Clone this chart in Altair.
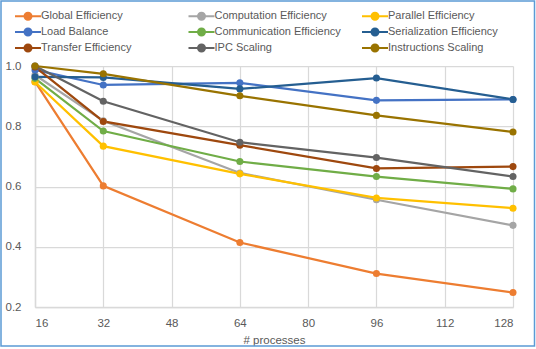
import altair as alt
import pandas as pd

processes = [16, 32, 64, 96, 128]
series_names = [
    "Global Efficiency", "Computation Efficiency", "Parallel Efficiency",
    "Load Balance", "Communication Efficiency", "Serialization Efficiency",
    "Transfer Efficiency", "IPC Scaling", "Instructions Scaling",
]
global_eff = [0.948, 0.602, 0.414, 0.311, 0.248]
computation_eff = [0.970, 0.818, 0.645, 0.556, 0.471]
parallel_eff = [0.947, 0.734, 0.642, 0.562, 0.528]
load_balance = [0.987, 0.937, 0.944, 0.886, 0.889]
communication_eff = [0.959, 0.784, 0.683, 0.633, 0.592]
serialization_eff = [0.964, 0.962, 0.924, 0.960, 0.889]
transfer_eff = [0.997, 0.816, 0.737, 0.660, 0.666]
ipc_scaling = [1.0, 0.883, 0.747, 0.696, 0.633]
instructions_scaling = [1.0, 0.974, 0.901, 0.836, 0.781]
colors = ["#ED7D31", "#A5A5A5", "#FFC000", "#4472C4", "#70AD47",
          "#255E91", "#9E480E", "#636363", "#997300"]

all_values = [global_eff, computation_eff, parallel_eff, load_balance,
              communication_eff, serialization_eff, transfer_eff,
              ipc_scaling, instructions_scaling]
rows = []
for i, (name, vals) in enumerate(zip(series_names, all_values)):
    for p, v in zip(processes, vals):
        rows.append({"series": name, "order": i, "processes": p, "value": v})
df = pd.DataFrame(rows)

W, H = 478, 241
FONT = "Liberation Sans"
TXT = "#595959"
GRID = "#D9D9D9"

# symbol: size 100 -> unit = 5px; line from -5px to +21px, dot radius 3.5px at +8px
sym_path = ("M-1,0L4.2,0M2.3,0A0.7,0.7,0,1,1,0.9,0"
            "A0.7,0.7,0,1,1,2.3,0Z")

legend = alt.Legend(
    title=None, orient="none", legendX=-21, legendY=-56, direction="horizontal",
    columns=3, gridAlign="all", columnPadding=16.5, rowPadding=0,
    symbolType=sym_path, symbolSize=100, symbolStrokeWidth=2,
    labelFont=FONT, labelFontSize=11, labelColor=TXT, labelOffset=15,
    labelLimit=200,
)

color = alt.Color("series:N", sort=series_names,
                  scale=alt.Scale(domain=series_names, range=colors),
                  legend=legend)

x = alt.X("processes:Q", title="# processes",
          scale=alt.Scale(domain=[16, 128], nice=False),
          axis=alt.Axis(values=[16, 32, 48, 64, 80, 96, 112, 128], ticks=False,
                        labelPadding=10, titlePadding=6, domainColor=GRID,
                        domainWidth=1.5))
y = alt.Y("value:Q", title=None,
          scale=alt.Scale(domain=[0.2, 1.0], nice=False, zero=False),
          axis=alt.Axis(values=[0.2, 0.4, 0.6, 0.8, 1.0], format=".1f",
                        ticks=False, labelPadding=14, domainColor=GRID,
                        domainWidth=1.5))

lines = alt.Chart(df).mark_line(strokeWidth=2.25).encode(
    x=x, y=y, color=color, order=alt.Order("processes:Q"))
points = alt.Chart(df).mark_point(filled=True, size=50, opacity=1).encode(
    x="processes:Q", y="value:Q", color=color)

border = alt.Chart(pd.DataFrame({"a": [0]})).mark_rect(
    fill=None, stroke="#5B9BD5", strokeWidth=1.5).encode(
    x=alt.value(-34), x2=alt.value(W + 21.5), y=alt.value(-65), y2=alt.value(H + 39))

chart = alt.layer(lines, points, border).properties(
    width=W, height=H,
    autosize=alt.AutoSizeParams(type="none"),
    padding={"left": 35, "top": 66, "right": 23, "bottom": 42},
    background="white",
).configure_view(stroke=None).configure_axis(
    grid=True, gridColor=GRID, gridWidth=1.25,
    labelFont=FONT, labelFontSize=11.5, labelColor=TXT,
    titleFont=FONT, titleFontSize=11.5, titleColor=TXT, titleFontWeight="normal",
)

chart.save("out.html", embed_options={"renderer": "svg", "actions": False})
